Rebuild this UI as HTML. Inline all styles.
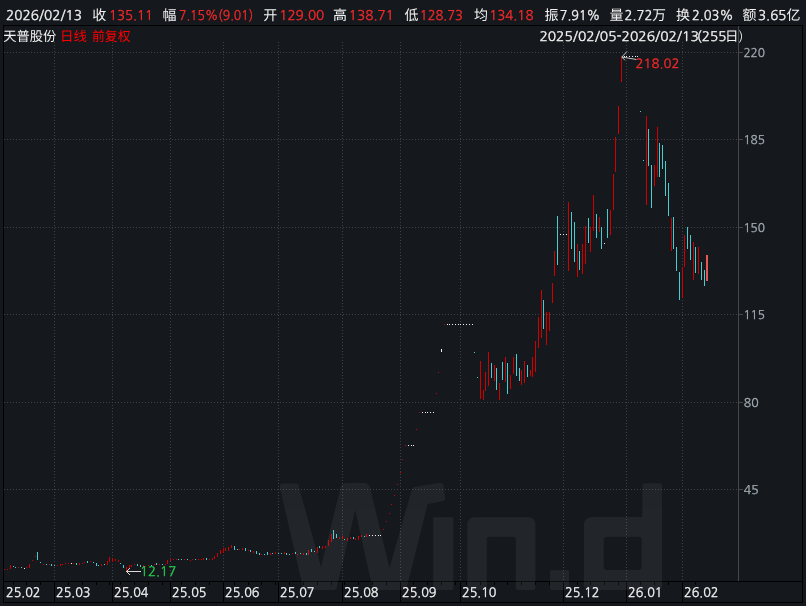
<!DOCTYPE html>
<html><head><meta charset="utf-8"><style>
html,body{margin:0;padding:0;background:#15181c;width:806px;height:606px;overflow:hidden}
svg{position:absolute;left:0;top:0;display:block}
.n{font-family:"Liberation Sans","Noto Sans CJK SC",sans-serif}
.c{font-family:"Noto Sans CJK SC","Liberation Sans",sans-serif}
</style></head><body>
<svg width="806" height="606" viewBox="0 0 806 606" shape-rendering="crispEdges">
<defs>
<pattern id="hd" x="0" y="0" width="3" height="1" patternUnits="userSpaceOnUse"><rect x="1" y="0" width="1" height="1" fill="#404146"/></pattern>
<pattern id="vd" x="0" y="0" width="1" height="3" patternUnits="userSpaceOnUse"><rect x="0" y="0" width="1" height="1" fill="#404146"/></pattern>
</defs>
<rect x="3" y="25" width="800" height="1" fill="#000000"/>
<rect x="3" y="581" width="800" height="1" fill="#000000"/>
<rect x="3" y="602" width="800" height="1" fill="#000000"/>
<rect x="3" y="25" width="1" height="578" fill="#000000"/>
<rect x="802" y="25" width="1" height="578" fill="#000000"/>
<rect x="738" y="26" width="1" height="555" fill="#46474b"/>
<rect x="4" y="52" width="734" height="1" fill="url(#hd)"/>
<rect x="739" y="52" width="4" height="1" fill="#46474b"/>
<rect x="4" y="139" width="734" height="1" fill="url(#hd)"/>
<rect x="739" y="139" width="4" height="1" fill="#46474b"/>
<rect x="4" y="227" width="734" height="1" fill="url(#hd)"/>
<rect x="739" y="227" width="4" height="1" fill="#46474b"/>
<rect x="4" y="314" width="734" height="1" fill="url(#hd)"/>
<rect x="739" y="314" width="4" height="1" fill="#46474b"/>
<rect x="4" y="402" width="734" height="1" fill="url(#hd)"/>
<rect x="739" y="402" width="4" height="1" fill="#46474b"/>
<rect x="4" y="489" width="734" height="1" fill="url(#hd)"/>
<rect x="739" y="489" width="4" height="1" fill="#46474b"/>
<rect x="54" y="42" width="1" height="539" fill="url(#vd)"/>
<rect x="112" y="42" width="1" height="539" fill="url(#vd)"/>
<rect x="170" y="42" width="1" height="539" fill="url(#vd)"/>
<rect x="223" y="42" width="1" height="539" fill="url(#vd)"/>
<rect x="278" y="42" width="1" height="539" fill="url(#vd)"/>
<rect x="342" y="42" width="1" height="539" fill="url(#vd)"/>
<rect x="400" y="42" width="1" height="539" fill="url(#vd)"/>
<rect x="460" y="42" width="1" height="539" fill="url(#vd)"/>
<rect x="563" y="42" width="1" height="539" fill="url(#vd)"/>
<rect x="626" y="42" width="1" height="539" fill="url(#vd)"/>
<rect x="682" y="42" width="1" height="539" fill="url(#vd)"/>
<rect x="13" y="582" width="1" height="3" fill="#000000"/>
<rect x="26" y="582" width="1" height="3" fill="#000000"/>
<rect x="40" y="582" width="1" height="3" fill="#000000"/>
<rect x="54" y="582" width="1" height="20" fill="#000000"/>
<rect x="68" y="582" width="1" height="3" fill="#000000"/>
<rect x="82" y="582" width="1" height="3" fill="#000000"/>
<rect x="96" y="582" width="1" height="3" fill="#000000"/>
<rect x="109" y="582" width="1" height="3" fill="#000000"/>
<rect x="112" y="582" width="1" height="20" fill="#000000"/>
<rect x="120" y="582" width="1" height="3" fill="#000000"/>
<rect x="134" y="582" width="1" height="3" fill="#000000"/>
<rect x="148" y="582" width="1" height="3" fill="#000000"/>
<rect x="162" y="582" width="1" height="3" fill="#000000"/>
<rect x="170" y="582" width="1" height="20" fill="#000000"/>
<rect x="181" y="582" width="1" height="3" fill="#000000"/>
<rect x="195" y="582" width="1" height="3" fill="#000000"/>
<rect x="209" y="582" width="1" height="3" fill="#000000"/>
<rect x="223" y="582" width="1" height="20" fill="#000000"/>
<rect x="234" y="582" width="1" height="3" fill="#000000"/>
<rect x="248" y="582" width="1" height="3" fill="#000000"/>
<rect x="261" y="582" width="1" height="3" fill="#000000"/>
<rect x="275" y="582" width="1" height="3" fill="#000000"/>
<rect x="278" y="582" width="1" height="20" fill="#000000"/>
<rect x="289" y="582" width="1" height="3" fill="#000000"/>
<rect x="303" y="582" width="1" height="3" fill="#000000"/>
<rect x="317" y="582" width="1" height="3" fill="#000000"/>
<rect x="331" y="582" width="1" height="3" fill="#000000"/>
<rect x="342" y="582" width="1" height="20" fill="#000000"/>
<rect x="344" y="582" width="1" height="3" fill="#000000"/>
<rect x="358" y="582" width="1" height="3" fill="#000000"/>
<rect x="372" y="582" width="1" height="3" fill="#000000"/>
<rect x="386" y="582" width="1" height="3" fill="#000000"/>
<rect x="400" y="582" width="1" height="20" fill="#000000"/>
<rect x="413" y="582" width="1" height="3" fill="#000000"/>
<rect x="427" y="582" width="1" height="3" fill="#000000"/>
<rect x="441" y="582" width="1" height="3" fill="#000000"/>
<rect x="455" y="582" width="1" height="3" fill="#000000"/>
<rect x="460" y="582" width="1" height="20" fill="#000000"/>
<rect x="466" y="582" width="1" height="3" fill="#000000"/>
<rect x="480" y="582" width="1" height="3" fill="#000000"/>
<rect x="494" y="582" width="1" height="3" fill="#000000"/>
<rect x="507" y="582" width="1" height="3" fill="#000000"/>
<rect x="521" y="582" width="1" height="3" fill="#000000"/>
<rect x="535" y="582" width="1" height="3" fill="#000000"/>
<rect x="549" y="582" width="1" height="3" fill="#000000"/>
<rect x="563" y="582" width="1" height="20" fill="#000000"/>
<rect x="577" y="582" width="1" height="3" fill="#000000"/>
<rect x="590" y="582" width="1" height="3" fill="#000000"/>
<rect x="604" y="582" width="1" height="3" fill="#000000"/>
<rect x="618" y="582" width="1" height="3" fill="#000000"/>
<rect x="626" y="582" width="1" height="20" fill="#000000"/>
<rect x="640" y="582" width="1" height="3" fill="#000000"/>
<rect x="654" y="582" width="1" height="3" fill="#000000"/>
<rect x="668" y="582" width="1" height="3" fill="#000000"/>
<rect x="682" y="582" width="1" height="20" fill="#000000"/>
<rect x="695" y="582" width="1" height="3" fill="#000000"/>
<rect x="4" y="569" width="1" height="1" fill="#d00000"/>
<rect x="7" y="569" width="1" height="1" fill="#d00000"/>
<rect x="10" y="565" width="1" height="4" fill="#d00000"/>
<rect x="13" y="566" width="1" height="1" fill="#45cdcf"/>
<rect x="15" y="567" width="1" height="1" fill="#45cdcf"/>
<rect x="18" y="567" width="1" height="1" fill="#d00000"/>
<rect x="21" y="567" width="1" height="1" fill="#45cdcf"/>
<rect x="24" y="568" width="1" height="1" fill="#f2f2f2"/>
<rect x="26" y="567" width="1" height="1" fill="#d00000"/>
<rect x="29" y="564" width="1" height="4" fill="#d00000"/>
<rect x="32" y="560" width="1" height="1" fill="#d00000"/>
<rect x="35" y="556" width="1" height="1" fill="#d00000"/>
<rect x="37" y="552" width="1" height="8" fill="#45cdcf"/>
<rect x="40" y="562" width="1" height="1" fill="#45cdcf"/>
<rect x="43" y="564" width="1" height="1" fill="#d00000"/>
<rect x="46" y="564" width="1" height="1" fill="#45cdcf"/>
<rect x="49" y="564" width="1" height="1" fill="#d00000"/>
<rect x="51" y="564" width="1" height="2" fill="#45cdcf"/>
<rect x="54" y="565" width="1" height="1" fill="#45cdcf"/>
<rect x="57" y="565" width="1" height="1" fill="#d00000"/>
<rect x="60" y="564" width="1" height="2" fill="#d00000"/>
<rect x="62" y="564" width="1" height="1" fill="#d00000"/>
<rect x="65" y="563" width="1" height="1" fill="#d00000"/>
<rect x="68" y="563" width="1" height="1" fill="#d00000"/>
<rect x="71" y="563" width="1" height="1" fill="#f2f2f2"/>
<rect x="73" y="563" width="1" height="1" fill="#d00000"/>
<rect x="76" y="563" width="1" height="2" fill="#45cdcf"/>
<rect x="79" y="563" width="1" height="2" fill="#d00000"/>
<rect x="82" y="563" width="1" height="1" fill="#d00000"/>
<rect x="84" y="562" width="1" height="1" fill="#d00000"/>
<rect x="87" y="561" width="1" height="2" fill="#45cdcf"/>
<rect x="90" y="561" width="1" height="1" fill="#d00000"/>
<rect x="93" y="562" width="1" height="1" fill="#45cdcf"/>
<rect x="96" y="563" width="1" height="3" fill="#45cdcf"/>
<rect x="98" y="565" width="1" height="1" fill="#45cdcf"/>
<rect x="101" y="564" width="1" height="2" fill="#d00000"/>
<rect x="104" y="564" width="1" height="1" fill="#45cdcf"/>
<rect x="107" y="561" width="1" height="4" fill="#d00000"/>
<rect x="109" y="557" width="1" height="5" fill="#d00000"/>
<rect x="112" y="558" width="1" height="4" fill="#d00000"/>
<rect x="115" y="559" width="1" height="2" fill="#d00000"/>
<rect x="118" y="560" width="1" height="2" fill="#d00000"/>
<rect x="120" y="563" width="1" height="1" fill="#45cdcf"/>
<rect x="123" y="565" width="1" height="3" fill="#45cdcf"/>
<rect x="126" y="567" width="1" height="4" fill="#d00000"/>
<rect x="129" y="565" width="1" height="3" fill="#d00000"/>
<rect x="131" y="565" width="1" height="2" fill="#d00000"/>
<rect x="134" y="564" width="1" height="1" fill="#d00000"/>
<rect x="137" y="564" width="1" height="2" fill="#45cdcf"/>
<rect x="140" y="565" width="1" height="2" fill="#45cdcf"/>
<rect x="143" y="565" width="1" height="2" fill="#d00000"/>
<rect x="145" y="566" width="1" height="1" fill="#d00000"/>
<rect x="148" y="565" width="1" height="1" fill="#d00000"/>
<rect x="151" y="565" width="1" height="1" fill="#45cdcf"/>
<rect x="154" y="564" width="1" height="1" fill="#d00000"/>
<rect x="156" y="563" width="1" height="2" fill="#45cdcf"/>
<rect x="159" y="564" width="1" height="1" fill="#d00000"/>
<rect x="162" y="564" width="1" height="1" fill="#45cdcf"/>
<rect x="165" y="564" width="1" height="1" fill="#d00000"/>
<rect x="167" y="560" width="1" height="4" fill="#d00000"/>
<rect x="170" y="559" width="1" height="2" fill="#d00000"/>
<rect x="173" y="559" width="1" height="1" fill="#d00000"/>
<rect x="176" y="559" width="1" height="1" fill="#d00000"/>
<rect x="178" y="559" width="1" height="1" fill="#45cdcf"/>
<rect x="181" y="559" width="1" height="1" fill="#45cdcf"/>
<rect x="184" y="559" width="1" height="1" fill="#d00000"/>
<rect x="187" y="559" width="1" height="1" fill="#45cdcf"/>
<rect x="190" y="560" width="1" height="1" fill="#d00000"/>
<rect x="192" y="559" width="1" height="1" fill="#d00000"/>
<rect x="195" y="559" width="1" height="1" fill="#45cdcf"/>
<rect x="198" y="559" width="1" height="1" fill="#d00000"/>
<rect x="201" y="559" width="1" height="1" fill="#d00000"/>
<rect x="203" y="558" width="1" height="2" fill="#d00000"/>
<rect x="206" y="558" width="1" height="2" fill="#45cdcf"/>
<rect x="209" y="559" width="1" height="1" fill="#d00000"/>
<rect x="212" y="558" width="1" height="2" fill="#d00000"/>
<rect x="214" y="556" width="1" height="3" fill="#d00000"/>
<rect x="217" y="553" width="1" height="4" fill="#d00000"/>
<rect x="220" y="550" width="1" height="4" fill="#d00000"/>
<rect x="223" y="548" width="1" height="5" fill="#d00000"/>
<rect x="225" y="548" width="1" height="3" fill="#d00000"/>
<rect x="228" y="547" width="1" height="4" fill="#d00000"/>
<rect x="231" y="545" width="1" height="3" fill="#d00000"/>
<rect x="234" y="546" width="1" height="4" fill="#45cdcf"/>
<rect x="237" y="549" width="1" height="1" fill="#45cdcf"/>
<rect x="239" y="549" width="1" height="1" fill="#d00000"/>
<rect x="242" y="548" width="1" height="2" fill="#d00000"/>
<rect x="245" y="548" width="1" height="3" fill="#45cdcf"/>
<rect x="248" y="550" width="1" height="1" fill="#d00000"/>
<rect x="250" y="550" width="1" height="2" fill="#45cdcf"/>
<rect x="253" y="551" width="1" height="2" fill="#d00000"/>
<rect x="256" y="551" width="1" height="3" fill="#45cdcf"/>
<rect x="259" y="553" width="1" height="2" fill="#45cdcf"/>
<rect x="261" y="554" width="1" height="1" fill="#d00000"/>
<rect x="264" y="554" width="1" height="1" fill="#45cdcf"/>
<rect x="267" y="552" width="1" height="3" fill="#45cdcf"/>
<rect x="270" y="553" width="1" height="2" fill="#d00000"/>
<rect x="272" y="553" width="1" height="1" fill="#45cdcf"/>
<rect x="275" y="552" width="1" height="2" fill="#d00000"/>
<rect x="278" y="553" width="1" height="1" fill="#45cdcf"/>
<rect x="281" y="553" width="1" height="1" fill="#45cdcf"/>
<rect x="284" y="552" width="1" height="2" fill="#d00000"/>
<rect x="286" y="553" width="1" height="2" fill="#45cdcf"/>
<rect x="289" y="554" width="1" height="1" fill="#45cdcf"/>
<rect x="292" y="553" width="1" height="1" fill="#d00000"/>
<rect x="295" y="552" width="1" height="2" fill="#45cdcf"/>
<rect x="297" y="554" width="1" height="1" fill="#d00000"/>
<rect x="300" y="553" width="1" height="1" fill="#45cdcf"/>
<rect x="303" y="553" width="1" height="2" fill="#d00000"/>
<rect x="306" y="553" width="1" height="2" fill="#45cdcf"/>
<rect x="308" y="550" width="1" height="5" fill="#d00000"/>
<rect x="311" y="549" width="1" height="3" fill="#45cdcf"/>
<rect x="314" y="551" width="1" height="1" fill="#45cdcf"/>
<rect x="317" y="547" width="1" height="6" fill="#d00000"/>
<rect x="319" y="546" width="1" height="2" fill="#45cdcf"/>
<rect x="322" y="546" width="1" height="3" fill="#d00000"/>
<rect x="325" y="546" width="1" height="2" fill="#d00000"/>
<rect x="328" y="540" width="1" height="6" fill="#d00000"/>
<rect x="331" y="534" width="1" height="8" fill="#d00000"/>
<rect x="333" y="530" width="1" height="9" fill="#45cdcf"/>
<rect x="336" y="534" width="1" height="4" fill="#45cdcf"/>
<rect x="339" y="537" width="1" height="2" fill="#d00000"/>
<rect x="342" y="536" width="1" height="3" fill="#d00000"/>
<rect x="344" y="539" width="1" height="1" fill="#45cdcf"/>
<rect x="347" y="538" width="1" height="3" fill="#d00000"/>
<rect x="350" y="537" width="1" height="2" fill="#d00000"/>
<rect x="353" y="537" width="1" height="2" fill="#45cdcf"/>
<rect x="355" y="538" width="1" height="2" fill="#d00000"/>
<rect x="358" y="536" width="1" height="4" fill="#d00000"/>
<rect x="361" y="535" width="1" height="2" fill="#d00000"/>
<rect x="364" y="536" width="1" height="1" fill="#45cdcf"/>
<rect x="366" y="534" width="1" height="3" fill="#d00000"/>
<rect x="369" y="535" width="1" height="1" fill="#f2f2f2"/>
<rect x="372" y="535" width="1" height="1" fill="#f2f2f2"/>
<rect x="375" y="535" width="1" height="1" fill="#f2f2f2"/>
<rect x="378" y="535" width="1" height="1" fill="#f2f2f2"/>
<rect x="380" y="535" width="1" height="1" fill="#f2f2f2"/>
<rect x="383" y="529" width="1" height="1" fill="#d00000"/>
<rect x="386" y="521" width="1" height="1" fill="#d00000"/>
<rect x="389" y="513" width="1" height="1" fill="#d00000"/>
<rect x="391" y="504" width="1" height="1" fill="#d00000"/>
<rect x="394" y="495" width="1" height="1" fill="#d00000"/>
<rect x="397" y="484" width="1" height="1" fill="#d00000"/>
<rect x="400" y="472" width="1" height="1" fill="#d00000"/>
<rect x="402" y="459" width="1" height="1" fill="#d00000"/>
<rect x="405" y="445" width="1" height="1" fill="#d00000"/>
<rect x="408" y="445" width="1" height="1" fill="#f2f2f2"/>
<rect x="411" y="445" width="1" height="1" fill="#f2f2f2"/>
<rect x="413" y="445" width="1" height="1" fill="#f2f2f2"/>
<rect x="416" y="429" width="1" height="1" fill="#d00000"/>
<rect x="419" y="412" width="1" height="1" fill="#d00000"/>
<rect x="422" y="412" width="1" height="1" fill="#f2f2f2"/>
<rect x="425" y="412" width="1" height="1" fill="#f2f2f2"/>
<rect x="427" y="412" width="1" height="1" fill="#f2f2f2"/>
<rect x="430" y="412" width="1" height="1" fill="#f2f2f2"/>
<rect x="433" y="412" width="1" height="1" fill="#f2f2f2"/>
<rect x="436" y="393" width="1" height="1" fill="#d00000"/>
<rect x="438" y="372" width="1" height="1" fill="#d00000"/>
<rect x="441" y="349" width="1" height="3" fill="#f2f2f2"/>
<rect x="444" y="324" width="1" height="1" fill="#d00000"/>
<rect x="447" y="324" width="1" height="1" fill="#f2f2f2"/>
<rect x="449" y="324" width="1" height="1" fill="#f2f2f2"/>
<rect x="452" y="324" width="1" height="1" fill="#f2f2f2"/>
<rect x="455" y="324" width="1" height="1" fill="#f2f2f2"/>
<rect x="458" y="324" width="1" height="1" fill="#f2f2f2"/>
<rect x="460" y="324" width="1" height="1" fill="#f2f2f2"/>
<rect x="463" y="324" width="1" height="1" fill="#f2f2f2"/>
<rect x="466" y="324" width="1" height="1" fill="#f2f2f2"/>
<rect x="469" y="324" width="1" height="1" fill="#f2f2f2"/>
<rect x="472" y="324" width="1" height="1" fill="#f2f2f2"/>
<rect x="474" y="352" width="1" height="1" fill="#45cdcf"/>
<rect x="477" y="377" width="1" height="1" fill="#45cdcf"/>
<rect x="480" y="361" width="1" height="38" fill="#d00000"/>
<rect x="483" y="390" width="1" height="10" fill="#d00000"/>
<rect x="485" y="372" width="1" height="19" fill="#d00000"/>
<rect x="488" y="352" width="1" height="34" fill="#d00000"/>
<rect x="491" y="363" width="1" height="15" fill="#45cdcf"/>
<rect x="494" y="365" width="1" height="16" fill="#d00000"/>
<rect x="496" y="368" width="1" height="22" fill="#45cdcf"/>
<rect x="499" y="383" width="1" height="17" fill="#d00000"/>
<rect x="502" y="362" width="1" height="18" fill="#45cdcf"/>
<rect x="505" y="357" width="1" height="25" fill="#d00000"/>
<rect x="507" y="363" width="1" height="31" fill="#45cdcf"/>
<rect x="510" y="375" width="1" height="14" fill="#d00000"/>
<rect x="513" y="357" width="1" height="17" fill="#d00000"/>
<rect x="516" y="354" width="1" height="22" fill="#45cdcf"/>
<rect x="519" y="368" width="1" height="13" fill="#45cdcf"/>
<rect x="521" y="370" width="1" height="15" fill="#d00000"/>
<rect x="524" y="361" width="1" height="22" fill="#d00000"/>
<rect x="527" y="365" width="1" height="12" fill="#45cdcf"/>
<rect x="530" y="370" width="1" height="6" fill="#d00000"/>
<rect x="532" y="357" width="1" height="20" fill="#d00000"/>
<rect x="535" y="341" width="1" height="31" fill="#d00000"/>
<rect x="538" y="317" width="1" height="31" fill="#d00000"/>
<rect x="541" y="290" width="1" height="48" fill="#d00000"/>
<rect x="543" y="300" width="1" height="29" fill="#45cdcf"/>
<rect x="546" y="312" width="1" height="33" fill="#d00000"/>
<rect x="549" y="312" width="1" height="19" fill="#d00000"/>
<rect x="552" y="283" width="1" height="20" fill="#d00000"/>
<rect x="554" y="251" width="1" height="25" fill="#d00000"/>
<rect x="557" y="216" width="1" height="49" fill="#45cdcf"/>
<rect x="560" y="234" width="1" height="1" fill="#f2f2f2"/>
<rect x="563" y="234" width="1" height="1" fill="#f2f2f2"/>
<rect x="566" y="234" width="1" height="1" fill="#f2f2f2"/>
<rect x="568" y="202" width="1" height="69" fill="#d00000"/>
<rect x="571" y="212" width="1" height="37" fill="#45cdcf"/>
<rect x="574" y="222" width="1" height="40" fill="#45cdcf"/>
<rect x="577" y="244" width="1" height="33" fill="#d00000"/>
<rect x="579" y="251" width="1" height="19" fill="#45cdcf"/>
<rect x="582" y="244" width="1" height="30" fill="#d00000"/>
<rect x="585" y="226" width="1" height="38" fill="#d00000"/>
<rect x="588" y="218" width="1" height="25" fill="#45cdcf"/>
<rect x="590" y="227" width="1" height="25" fill="#d00000"/>
<rect x="593" y="195" width="1" height="36" fill="#d00000"/>
<rect x="596" y="214" width="1" height="24" fill="#45cdcf"/>
<rect x="599" y="217" width="1" height="15" fill="#d00000"/>
<rect x="601" y="227" width="1" height="22" fill="#45cdcf"/>
<rect x="604" y="243" width="1" height="1" fill="#f2f2f2"/>
<rect x="607" y="209" width="1" height="29" fill="#45cdcf"/>
<rect x="610" y="210" width="1" height="25" fill="#d00000"/>
<rect x="613" y="174" width="1" height="36" fill="#d00000"/>
<rect x="615" y="137" width="1" height="35" fill="#d00000"/>
<rect x="618" y="106" width="1" height="28" fill="#d00000"/>
<rect x="621" y="57" width="1" height="25" fill="#d00000"/>
<rect x="624" y="56" width="1" height="1" fill="#f2f2f2"/>
<rect x="626" y="56" width="1" height="1" fill="#f2f2f2"/>
<rect x="629" y="56" width="1" height="1" fill="#f2f2f2"/>
<rect x="632" y="56" width="1" height="1" fill="#f2f2f2"/>
<rect x="635" y="56" width="1" height="1" fill="#f2f2f2"/>
<rect x="637" y="56" width="1" height="1" fill="#f2f2f2"/>
<rect x="640" y="111" width="1" height="1" fill="#45cdcf"/>
<rect x="643" y="160" width="1" height="1" fill="#45cdcf"/>
<rect x="646" y="116" width="1" height="89" fill="#d00000"/>
<rect x="648" y="129" width="1" height="37" fill="#45cdcf"/>
<rect x="651" y="165" width="1" height="43" fill="#45cdcf"/>
<rect x="654" y="165" width="1" height="21" fill="#d00000"/>
<rect x="657" y="127" width="1" height="50" fill="#d00000"/>
<rect x="659" y="143" width="1" height="34" fill="#45cdcf"/>
<rect x="662" y="145" width="1" height="24" fill="#45cdcf"/>
<rect x="665" y="161" width="1" height="35" fill="#45cdcf"/>
<rect x="668" y="183" width="1" height="33" fill="#45cdcf"/>
<rect x="671" y="218" width="1" height="33" fill="#d00000"/>
<rect x="673" y="217" width="1" height="32" fill="#45cdcf"/>
<rect x="676" y="247" width="1" height="24" fill="#45cdcf"/>
<rect x="679" y="272" width="1" height="28" fill="#45cdcf"/>
<rect x="682" y="267" width="1" height="31" fill="#d00000"/>
<rect x="684" y="235" width="1" height="32" fill="#d00000"/>
<rect x="687" y="227" width="1" height="22" fill="#45cdcf"/>
<rect x="690" y="235" width="1" height="25" fill="#45cdcf"/>
<rect x="693" y="242" width="1" height="38" fill="#d00000"/>
<rect x="695" y="247" width="1" height="26" fill="#45cdcf"/>
<rect x="698" y="247" width="1" height="27" fill="#d00000"/>
<rect x="701" y="262" width="1" height="18" fill="#45cdcf"/>
<rect x="704" y="270" width="1" height="16" fill="#45cdcf"/>
<rect x="706" y="255" width="2" height="26" fill="#e85555"/>
<path d="M621.8,57 L636.5,59.5 M621.8,57 L627,51.5 M621.8,57 L625,60.3" stroke="#d8d8d8" stroke-width="0.9" fill="none" shape-rendering="geometricPrecision"/>
<path d="M126.5,571.5 H141 M126.5,571.5 L130,568 M126.5,571.5 L130,575" stroke="#d8d8d8" stroke-width="1" fill="none"/>
<g shape-rendering="geometricPrecision" opacity="0.056"><path d="M279.71,486.56C279.35,485.00 280.54,483.50 282.14,483.50L296.10,483.50C297.22,483.50 298.21,484.25 298.51,485.34L321.00,567.00L340.48,487.57C341.14,484.89 343.54,483.00 346.31,483.00L364.18,483.00C366.95,483.00 369.36,484.90 370.01,487.59L389.50,568.00L411.98,489.13C412.30,488.01 413.23,487.18 414.38,486.99L439.96,482.80C441.63,482.53 443.19,483.68 443.42,485.35L445.18,498.17C445.36,499.48 444.49,500.70 443.20,500.96L428.22,503.98C427.84,504.05 427.54,504.34 427.45,504.71L406.67,587.73C406.33,589.06 405.13,590.00 403.76,590.00L375.40,590.00C374.00,590.00 372.78,589.03 372.48,587.65L355.20,510.30L336.65,587.70C336.33,589.05 335.12,590.00 333.73,590.00L305.99,590.00C304.59,590.00 303.38,589.04 303.06,587.68Z" fill="#ffffff"/><path d="M433.20,518.70C433.20,517.87 433.87,517.20 434.70,517.20L451.80,517.20C452.63,517.20 453.30,517.87 453.30,518.70L453.30,588.00C453.30,589.10 452.40,590.00 451.30,590.00L435.20,590.00C434.10,590.00 433.20,589.10 433.20,588.00Z" fill="#ffffff"/><path d="M467.40,524.20C467.40,520.33 470.53,517.20 474.40,517.20L528.40,517.20C532.27,517.20 535.40,520.33 535.40,524.20L535.40,588.00C535.40,589.10 534.50,590.00 533.40,590.00L517.80,590.00C516.70,590.00 515.80,589.10 515.80,588.00L515.80,538.70C515.80,537.60 514.90,536.70 513.80,536.70L488.80,536.70C487.70,536.70 486.80,537.60 486.80,538.70L486.80,588.00C486.80,589.10 485.90,590.00 484.80,590.00L469.40,590.00C468.30,590.00 467.40,589.10 467.40,588.00Z" fill="#ffffff"/><path d="M550.00,571.80C550.00,570.97 550.67,570.30 551.50,570.30L567.50,570.30C568.33,570.30 569.00,570.97 569.00,571.80L569.00,588.00C569.00,589.10 568.10,590.00 567.00,590.00L552.00,590.00C550.90,590.00 550.00,589.10 550.00,588.00Z" fill="#ffffff"/><path d="M583.90,525.00C583.90,520.58 587.48,517.00 591.90,517.00L641.80,517.00C642.08,517.00 642.30,516.78 642.30,516.50L642.30,485.80C642.30,484.42 643.42,483.30 644.80,483.30L659.60,483.30C660.98,483.30 662.10,484.42 662.10,485.80L662.10,585.00C662.10,587.76 659.86,590.00 657.10,590.00L588.90,590.00C586.14,590.00 583.90,587.76 583.90,585.00Z M603.70,539.80C603.70,538.14 605.04,536.80 606.70,536.80L638.70,536.80C640.36,536.80 641.70,538.14 641.70,539.80L641.70,567.00C641.70,568.66 640.36,570.00 638.70,570.00L606.70,570.00C605.04,570.00 603.70,568.66 603.70,567.00Z" fill="#ffffff" fill-rule="evenodd"/></g>
<g shape-rendering="auto" text-rendering="geometricPrecision" font-family='"NanumGothic","Noto Sans CJK SC",sans-serif'>
<text x="6.0" y="19.6" fill="#f2f2f2" font-size="13.4" textLength="75.97" lengthAdjust="spacingAndGlyphs" stroke="#f2f2f2" stroke-width="0.32">2026/02/13</text>
<text x="92.2" y="19.6" fill="#f2f2f2" font-size="14">收</text>
<text x="109.0" y="19.6" fill="#f42a2a" font-size="13.4" textLength="44.14" lengthAdjust="spacingAndGlyphs" stroke="#f42a2a" stroke-width="0.32">135.11</text>
<text x="162.4" y="19.6" fill="#f2f2f2" font-size="14">幅</text>
<text x="179.0" y="19.6" fill="#f42a2a" font-size="13.4" textLength="74.12" lengthAdjust="spacingAndGlyphs" stroke="#f42a2a" stroke-width="0.32">7.15%(9.01)</text>
<text x="263.2" y="19.6" fill="#f2f2f2" font-size="14">开</text>
<text x="279.2" y="19.6" fill="#f42a2a" font-size="13.4" textLength="45.14" lengthAdjust="spacingAndGlyphs" stroke="#f42a2a" stroke-width="0.32">129.00</text>
<text x="333.0" y="19.6" fill="#f2f2f2" font-size="14">高</text>
<text x="348.8" y="19.6" fill="#f42a2a" font-size="13.4" textLength="45.14" lengthAdjust="spacingAndGlyphs" stroke="#f42a2a" stroke-width="0.32">138.71</text>
<text x="404.4" y="19.6" fill="#f2f2f2" font-size="14">低</text>
<text x="419.8" y="19.6" fill="#f42a2a" font-size="13.4" textLength="43.14" lengthAdjust="spacingAndGlyphs" stroke="#f42a2a" stroke-width="0.32">128.73</text>
<text x="474.0" y="19.6" fill="#f2f2f2" font-size="14">均</text>
<text x="489.2" y="19.6" fill="#f42a2a" font-size="13.4" textLength="44.24" lengthAdjust="spacingAndGlyphs" stroke="#f42a2a" stroke-width="0.32">134.18</text>
<text x="544.4" y="19.6" fill="#f2f2f2" font-size="14">振</text>
<text x="559.8" y="19.6" fill="#f2f2f2" font-size="13.4" textLength="40.5" lengthAdjust="spacingAndGlyphs" stroke="#f2f2f2" stroke-width="0.32">7.91%</text>
<text x="609.4" y="19.6" fill="#f2f2f2" font-size="14">量</text>
<text x="624.6" y="19.6" fill="#f2f2f2" font-size="13.4" textLength="41.41" lengthAdjust="spacingAndGlyphs" stroke="#f2f2f2" stroke-width="0.32">2.72<tspan font-size="14" stroke="none">万</tspan></text>
<text x="676.1" y="19.6" fill="#f2f2f2" font-size="14">换</text>
<text x="692.0" y="19.6" fill="#f2f2f2" font-size="13.4" textLength="41.5" lengthAdjust="spacingAndGlyphs" stroke="#f2f2f2" stroke-width="0.32">2.03%</text>
<text x="742.4" y="19.6" fill="#f2f2f2" font-size="14">额</text>
<text x="758.0" y="19.6" fill="#f2f2f2" font-size="13.4" textLength="42.41" lengthAdjust="spacingAndGlyphs" stroke="#f2f2f2" stroke-width="0.32">3.65<tspan font-size="14" stroke="none">亿</tspan></text>
<text x="3.2" y="41" fill="#f2f2f2" font-size="13.5" textLength="53.0" lengthAdjust="spacingAndGlyphs">天普股份</text>
<text x="60.0" y="41" fill="#ff0000" font-size="13.5" textLength="27.0" lengthAdjust="spacingAndGlyphs">日线</text>
<text x="92.0" y="41" fill="#ff0000" font-size="13.5" textLength="38.5" lengthAdjust="spacingAndGlyphs">前复权</text>
<text x="539.4" y="40.7" fill="#f2f2f2" font-size="13.1" textLength="159.36" lengthAdjust="spacingAndGlyphs" stroke="#f2f2f2" stroke-width="0.32">2025/02/05-2026/02/13</text>
<text x="696.8" y="40.7" fill="#f2f2f2" font-size="13.1" textLength="29.56" lengthAdjust="spacingAndGlyphs" stroke="#f2f2f2" stroke-width="0.32">(255</text>
<text x="725.0" y="40.7" fill="#f2f2f2" font-size="13.5">日</text>
<text x="738.4" y="40.7" fill="#f2f2f2" font-size="13.1">)</text>
<text x="635.6" y="67.7" fill="#f42a2a" font-size="12.7" textLength="43.8" lengthAdjust="spacingAndGlyphs" stroke="#f42a2a" stroke-width="0.32">218.02</text>
<text x="140.0" y="576.4" fill="#22c84a" font-size="13.1" textLength="36.22" lengthAdjust="spacingAndGlyphs" stroke="#22c84a" stroke-width="0.32">12.17</text>
<text x="743.4" y="57" fill="#a2aab3" font-size="12.0" textLength="21.63" lengthAdjust="spacingAndGlyphs" stroke="#a2aab3" stroke-width="0.32">220</text>
<text x="743.4" y="144" fill="#a2aab3" font-size="12.0" textLength="21.63" lengthAdjust="spacingAndGlyphs" stroke="#a2aab3" stroke-width="0.32">185</text>
<text x="743.4" y="232" fill="#a2aab3" font-size="12.0" textLength="21.63" lengthAdjust="spacingAndGlyphs" stroke="#a2aab3" stroke-width="0.32">150</text>
<text x="743.4" y="319" fill="#a2aab3" font-size="12.0" textLength="21.63" lengthAdjust="spacingAndGlyphs" stroke="#a2aab3" stroke-width="0.32">115</text>
<text x="743.7" y="407" fill="#a2aab3" font-size="12.0" textLength="14.95" lengthAdjust="spacingAndGlyphs" stroke="#a2aab3" stroke-width="0.32">80</text>
<text x="743.7" y="494" fill="#a2aab3" font-size="12.0" textLength="14.95" lengthAdjust="spacingAndGlyphs" stroke="#a2aab3" stroke-width="0.32">45</text>
<text x="6" y="596.7" fill="#f2f2f2" font-size="13.2" textLength="34.47" lengthAdjust="spacingAndGlyphs" stroke="#f2f2f2" stroke-width="0.32">25.02</text>
<text x="56" y="596.7" fill="#f2f2f2" font-size="13.2" textLength="34.47" lengthAdjust="spacingAndGlyphs" stroke="#f2f2f2" stroke-width="0.32">25.03</text>
<text x="114" y="596.7" fill="#f2f2f2" font-size="13.2" textLength="34.47" lengthAdjust="spacingAndGlyphs" stroke="#f2f2f2" stroke-width="0.32">25.04</text>
<text x="172" y="596.7" fill="#f2f2f2" font-size="13.2" textLength="34.47" lengthAdjust="spacingAndGlyphs" stroke="#f2f2f2" stroke-width="0.32">25.05</text>
<text x="225" y="596.7" fill="#f2f2f2" font-size="13.2" textLength="34.47" lengthAdjust="spacingAndGlyphs" stroke="#f2f2f2" stroke-width="0.32">25.06</text>
<text x="280" y="596.7" fill="#f2f2f2" font-size="13.2" textLength="34.47" lengthAdjust="spacingAndGlyphs" stroke="#f2f2f2" stroke-width="0.32">25.07</text>
<text x="344" y="596.7" fill="#f2f2f2" font-size="13.2" textLength="34.47" lengthAdjust="spacingAndGlyphs" stroke="#f2f2f2" stroke-width="0.32">25.08</text>
<text x="402" y="596.7" fill="#f2f2f2" font-size="13.2" textLength="34.47" lengthAdjust="spacingAndGlyphs" stroke="#f2f2f2" stroke-width="0.32">25.09</text>
<text x="462" y="596.7" fill="#f2f2f2" font-size="13.2" textLength="34.47" lengthAdjust="spacingAndGlyphs" stroke="#f2f2f2" stroke-width="0.32">25.10</text>
<text x="565" y="596.7" fill="#f2f2f2" font-size="13.2" textLength="34.47" lengthAdjust="spacingAndGlyphs" stroke="#f2f2f2" stroke-width="0.32">25.12</text>
<text x="628" y="596.7" fill="#f2f2f2" font-size="13.2" textLength="34.47" lengthAdjust="spacingAndGlyphs" stroke="#f2f2f2" stroke-width="0.32">26.01</text>
<text x="684" y="596.7" fill="#f2f2f2" font-size="13.2" textLength="34.47" lengthAdjust="spacingAndGlyphs" stroke="#f2f2f2" stroke-width="0.32">26.02</text>
</g>
</svg>
</body></html>
